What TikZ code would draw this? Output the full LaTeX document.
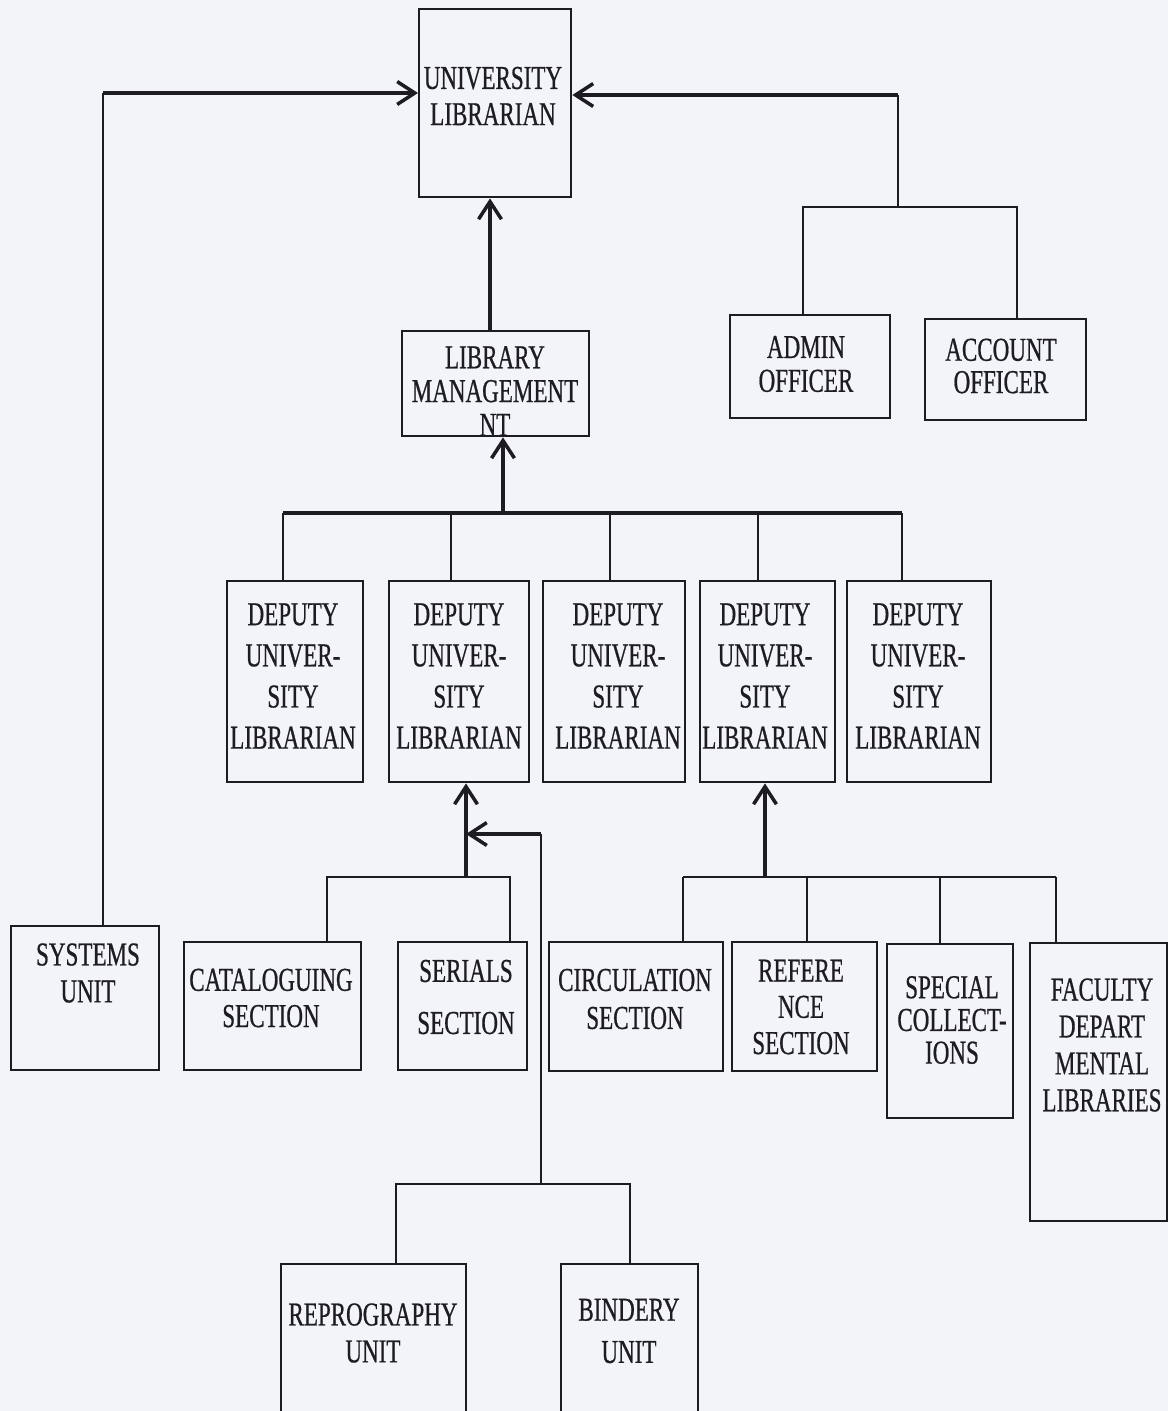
\documentclass[tikz,border=0pt]{standalone}
\usepackage{fontspec}
\setmainfont[FakeStretch=0.69, FakeBold=0.6]{Liberation Serif}
\usetikzlibrary{arrows.meta}
\definecolor{scanpaper}{RGB}{243,244,249}
\definecolor{inkgray}{RGB}{28,28,34}

\begin{document}
\begin{tikzpicture}[x=0.01cm, y=-0.01cm,
    box/.style={draw=inkgray, line width=0.65pt, anchor=north west, inner sep=0pt},
    lbl/.style={align=center, inner sep=0pt, text=inkgray, font=\fontsize{9.5}{10.3}\selectfont},
    link/.style={draw=inkgray, line width=0.6pt},
    bus/.style={draw=inkgray, line width=0.95pt},
    arr/.style={draw=inkgray, line width=1pt, -{Straight Barb[length=5pt, width=6.5pt]}}]
        \useasboundingbox (0, 0) rectangle (1168, 1411);
        \fill[scanpaper] (0, 0) rectangle (1168, 1411);
        \clip (0, 0) rectangle (1168, 1411);
        % top level
        \node[box, minimum width=1.52cm, minimum height=1.88cm] (ul) at (418, 8) {};
        \node[box, minimum width=1.87cm, minimum height=1.05cm] (lm) at (401, 330) {};
        \node[box, minimum width=1.60cm, minimum height=1.03cm] (ao) at (729, 314) {};
        \node[box, minimum width=1.61cm, minimum height=1.01cm] (ac) at (924, 318) {};
        \node[lbl] (ult) at (493, 96) {UNIVERSITY\\LIBRARIAN};
        \node[lbl, font=\fontsize{9.5}{9.6}\selectfont] (lmt) at (495, 391) {LIBRARY\\MANAGEMENT\\NT};
        \node[lbl, font=\fontsize{9.5}{9.6}\selectfont] (aot) at (806, 364) {ADMIN\\OFFICER};
        \node[lbl, font=\fontsize{9.5}{9.2}\selectfont] (act) at (1001, 366) {ACCOUNT\\OFFICER};
        % deputies
        \node[box, minimum width=1.36cm, minimum height=2.01cm] (d1) at (226, 580) {};
        \node[box, minimum width=1.40cm, minimum height=2.01cm] (d2) at (388, 580) {};
        \node[box, minimum width=1.42cm, minimum height=2.01cm] (d3) at (542, 580) {};
        \node[box, minimum width=1.35cm, minimum height=2.01cm] (d4) at (699, 580) {};
        \node[box, minimum width=1.44cm, minimum height=2.01cm] (d5) at (846, 580) {};
        \foreach \n/\x in {d1/293, d2/459, d3/618, d4/765, d5/918}
            \node[lbl, font=\fontsize{9.5}{11.7}\selectfont] (\n t) at (\x, 676) {DEPUTY\\UNIVER-\\SITY\\LIBRARIAN};
        % sections
        \node[box, minimum width=1.48cm, minimum height=1.44cm] (su) at (10, 925) {};
        \node[box, minimum width=1.77cm, minimum height=1.28cm] (cs) at (183, 941) {};
        \node[box, minimum width=1.29cm, minimum height=1.28cm] (ss) at (397, 941) {};
        \node[box, minimum width=1.74cm, minimum height=1.29cm] (cr) at (548, 941) {};
        \node[box, minimum width=1.45cm, minimum height=1.29cm] (rf) at (731, 941) {};
        \node[box, minimum width=1.26cm, minimum height=1.74cm] (sc) at (886, 943) {};
        \node[box, minimum width=1.37cm, minimum height=2.78cm] (fd) at (1029, 942) {};
        \node[lbl, font=\fontsize{9.5}{10.5}\selectfont] (sut) at (88, 973) {SYSTEMS\\UNIT};
        \node[lbl] (cst) at (271, 998) {CATALOGUING\\SECTION};
        \node[lbl, font=\fontsize{9.5}{14.8}\selectfont] (sst) at (466, 997) {SERIALS\\SECTION};
        \node[lbl, font=\fontsize{9.5}{10.8}\selectfont] (crt) at (635, 999) {CIRCULATION\\SECTION};
        \node[lbl] (rft) at (801, 1007) {REFERE\\NCE\\SECTION};
        \node[lbl, font=\fontsize{9.5}{9.3}\selectfont] (sct) at (952, 1020) {SPECIAL\\COLLECT-\\IONS};
        \node[lbl, font=\fontsize{9.5}{10.5}\selectfont] (fdt) at (1102, 1045) {FACULTY\\DEPART\\MENTAL\\LIBRARIES};
        % units at the foot
        \node[box, minimum width=1.85cm, minimum height=1.70cm] (rp) at (280, 1263) {};
        \node[box, minimum width=1.37cm, minimum height=1.70cm] (bu) at (560, 1263) {};
        \node[lbl, font=\fontsize{9.5}{10.5}\selectfont] (rpt) at (373, 1333) {REPROGRAPHY\\UNIT};
        \node[lbl, font=\fontsize{9.5}{12}\selectfont] (but) at (629, 1331) {BINDERY\\UNIT};
        % junctions
        \coordinate (jl) at (103, 93);
        \coordinate (jr) at (898, 95);
        \coordinate (jo) at (898, 207);
        \coordinate (jao) at (803, 207);
        \coordinate (jac) at (1017, 207);
        \coordinate (jd) at (503, 513);
        \coordinate (jc) at (466, 877);
        \coordinate (bcs) at (327, 877);
        \coordinate (bss) at (510, 877);
        \coordinate (jv) at (541, 834);
        \coordinate (jrb) at (541, 1184);
        \coordinate (brp) at (396, 1184);
        \coordinate (bbu) at (630, 1184);
        \coordinate (jx) at (765, 877);
        % connectors
        \draw[link] (jl |- su.north) -- (jl);
        \draw[arr] (jl) -- (jl -| ul.west);
        \draw[link] (jo) -- (jr);
        \draw[arr] (jr) -- (jr -| ul.east);
        \draw[link] (jao |- ao.north) -- (jao) -- (jac) -- (jac |- ac.north);
        \draw[arr] (lm.north -| 490, 0) -- (ul.south -| 490, 0);
        \draw[arr] (jd) -- (jd |- lm.south);
        \foreach \n/\x in {d1/283, d2/451, d3/610, d4/758, d5/902} {
            \coordinate (b\n) at (\x, 513);
            \draw[link] (b\n) -- (b\n |- \n.north);
        }
        \draw[bus] (bd1) -- (bd5);
        \draw[link] (bcs |- cs.north) -- (bcs) -- (bss) -- (bss |- ss.north);
        \draw[arr] (jc) -- (jc |- d2.south);
        \draw[link] (jrb) -- (jv);
        \draw[arr] (jv) -- (jv -| jc);
        \draw[link] (brp |- rp.north) -- (brp) -- (bbu) -- (bbu |- bu.north);
        \draw[arr] (jx) -- (jx |- d4.south);
        \foreach \n/\x in {cr/683, rf/807, sc/940, fd/1056} {
            \coordinate (b\n) at (\x, 877);
            \draw[link] (b\n) -- (b\n |- \n.north);
        }
        \draw[link] (bcr) -- (bfd);
\end{tikzpicture}
\end{document}
